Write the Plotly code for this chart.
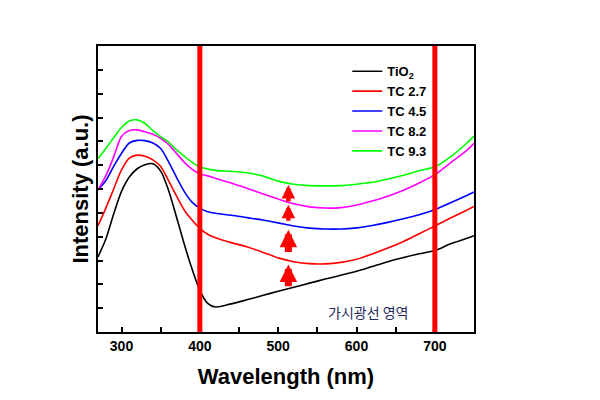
import plotly.graph_objects as go

wavelength = [270, 280, 290, 300, 310, 320, 330, 340, 350, 360, 370, 380, 390, 400, 410, 420,
              440, 460, 480, 500, 520, 540, 560, 580, 600, 620, 640, 660, 680, 700, 720, 740, 750]

tio2 = [3.15, 3.9, 4.95, 5.9, 6.5, 6.85, 7.02, 7.06, 6.75, 5.95, 4.85, 3.7, 2.65, 1.75, 1.2, 1.05,
        1.18, 1.35, 1.53, 1.71, 1.88, 2.05, 2.22, 2.38, 2.55, 2.75, 2.95, 3.12, 3.28, 3.42, 3.7, 3.92, 4.04]

tc27 = [4.46, 5.2, 6.0, 6.8, 7.3, 7.42, 7.37, 7.22, 6.94, 6.35, 5.72, 5.12, 4.7, 4.35, 4.1, 3.95,
        3.75, 3.58, 3.35, 3.11, 2.95, 2.87, 2.86, 2.92, 3.05, 3.27, 3.52, 3.8, 4.12, 4.45, 4.78, 5.1, 5.27]

tc45 = [5.96, 6.35, 6.95, 7.5, 7.93, 8.04, 8.03, 7.93, 7.7, 7.15, 6.5, 5.9, 5.45, 5.2, 5.05, 4.98,
        4.9, 4.8, 4.7, 4.58, 4.45, 4.36, 4.32, 4.32, 4.37, 4.47, 4.6, 4.75, 4.92, 5.13, 5.42, 5.72, 5.87]

tc82 = [5.97, 6.55, 7.35, 8.2, 8.45, 8.48, 8.4, 8.3, 8.13, 7.87, 7.5, 7.13, 6.83, 6.63, 6.55, 6.45,
        6.25, 6.03, 5.8, 5.58, 5.38, 5.25, 5.2, 5.22, 5.33, 5.5, 5.7, 5.95, 6.25, 6.6, 7.1, 7.6, 7.92]

tc93 = [7.27, 7.7, 8.15, 8.58, 8.85, 8.9, 8.75, 8.45, 8.2, 7.98, 7.65, 7.38, 7.12, 6.93, 6.84, 6.78,
        6.74, 6.68, 6.55, 6.33, 6.2, 6.14, 6.13, 6.14, 6.2, 6.28, 6.42, 6.58, 6.77, 6.93, 7.35, 7.9, 8.22]

series_names = ["TiO<sub>2</sub>", "TC 2.7", "TC 4.5", "TC 8.2", "TC 9.3"]
series_values = [tio2, tc27, tc45, tc82, tc93]
series_colors = ["#000000", "#ff0000", "#0000ff", "#ff00ff", "#00ff00"]

visible_bounds = [400, 700]
arrow_x = 513
arrow_tails = [1.86, 3.29, 4.6, 5.41]
arrow_tips = [2.83, 4.29, 5.34, 6.17]
arrow_widths = [7, 7, 4.5, 4.5]
region_label = "가시광선 영역"
region_label_pos = (615, 0.82)

x_ticks = [300, 400, 500, 600, 700]

fig = go.Figure()
for name, vals, col in zip(series_names, series_values, series_colors):
    fig.add_trace(go.Scatter(x=wavelength, y=vals, mode="lines", name=name,
                             line=dict(color=col, width=1.6, shape="spline", smoothing=0.8)))

for xb in visible_bounds:
    fig.add_shape(type="line", xref="x", yref="paper", x0=xb, x1=xb, y0=0, y1=1,
                  line=dict(color="#ff0000", width=5), layer="above")

for tail, tip, w in zip(arrow_tails, arrow_tips, arrow_widths):
    fig.add_annotation(x=arrow_x, y=tip, ax=arrow_x, ay=tail, xref="x", yref="y",
                       axref="x", ayref="y", text="", showarrow=True,
                       arrowhead=2, arrowsize=0.5 if w > 5 else 0.6,
                       arrowwidth=w, arrowcolor="#ff0000", standoff=0)

fig.add_annotation(x=region_label_pos[0], y=region_label_pos[1], xref="x", yref="y",
                   text=region_label, showarrow=False,
                   font=dict(family="Noto Sans CJK KR", size=14, color="#1f2a5c"))

fig.update_layout(
    width=600, height=400,
    margin=dict(l=90, r=134, t=38, b=76, autoexpand=False),
    paper_bgcolor="white", plot_bgcolor="white",
    font=dict(family="Arial", color="black"),
    showlegend=True,
    legend=dict(x=0.663, y=0.964, xanchor="left", yanchor="top",
                bgcolor="rgba(0,0,0,0)", borderwidth=0,
                font=dict(family="Arial", size=13, color="black", weight="bold"),
                tracegroupgap=0),
    xaxis=dict(range=[270, 750], tickvals=x_ticks, ticks="inside", ticklen=5, tickwidth=1.5,
               tickcolor="black", showline=True, linecolor="black", linewidth=2, mirror=True,
               showgrid=False, zeroline=False, automargin=False,
               tickfont=dict(family="Arial", size=14, color="black", weight="bold"),
               minor=dict(dtick=50, tick0=250, ticks="inside", ticklen=5, tickwidth=1.5, tickcolor="black"),
               title=dict(text="Wavelength (nm)", standoff=16,
                          font=dict(family="Arial", size=22, color="black", weight="bold"))),
    yaxis=dict(range=[0, 12], dtick=1, tick0=0, ticks="inside", ticklen=5, tickwidth=1.5,
               tickcolor="black", showticklabels=False, showline=True, linecolor="black",
               linewidth=2, mirror=True, showgrid=False, zeroline=False, automargin=False,
               title=dict(text="Intensity (a.u.)", standoff=1,
                          font=dict(family="Arial", size=22, color="black", weight="bold"))),
)

fig.write_html("out.html")
